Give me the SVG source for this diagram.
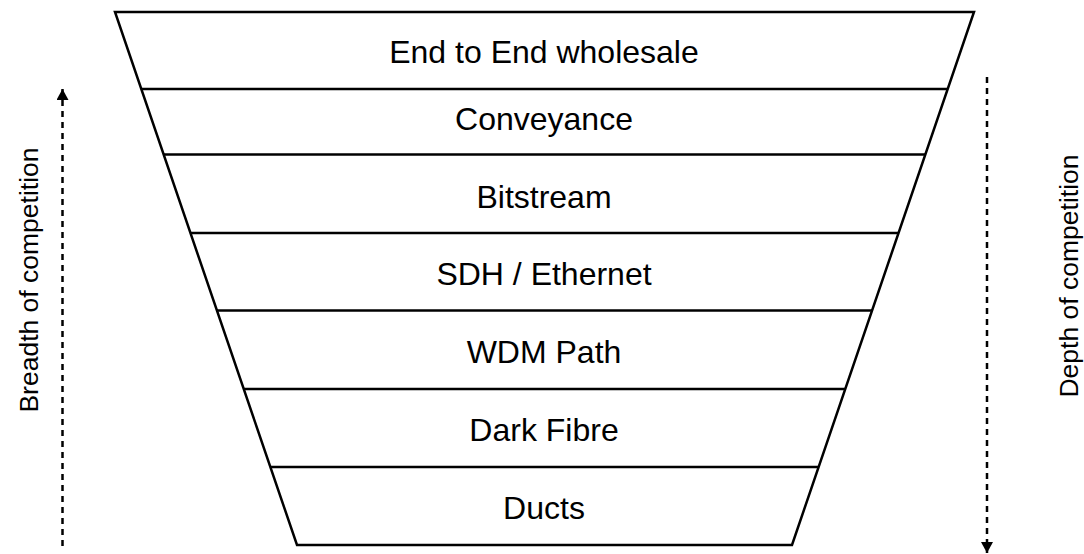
<svg xmlns="http://www.w3.org/2000/svg" width="1084" height="554" viewBox="0 0 1084 554">
  <style>
    .band { fill: none; stroke: #000; stroke-width: 2.5; stroke-linejoin: miter; }
    .sep { stroke: #000; stroke-width: 2.5; }
    .lbl { font-family: "Liberation Sans", Arial, sans-serif; font-size: 32px; fill: #000; text-anchor: middle; }
    .side { font-family: "Liberation Sans", Arial, sans-serif; font-size: 26.5px; fill: #000; text-anchor: middle; }
    .axis { stroke: #000; stroke-width: 2.5; stroke-dasharray: 6 5; fill: none; }
  </style>
  <defs>
    <marker id="tri" viewBox="0 0 10 10" refX="10" refY="5" markerWidth="11" markerHeight="12" markerUnits="userSpaceOnUse" orient="auto" preserveAspectRatio="none">
      <path d="M0,0 L10,5 L0,10 Z" fill="#000"/>
    </marker>
  </defs>
  <rect width="1084" height="554" fill="#fff"/>

  <!-- funnel outline -->
  <g id="funnel">
    <polygon class="band" points="115,12 974,12 792,545 297,545"/>
  </g>

  <!-- layers, top to bottom -->
  <g id="layer-end-to-end">
    <line class="sep" x1="141" y1="89" x2="948" y2="89"/>
    <text class="lbl" x="544" y="63">End to End wholesale</text>
  </g>
  <g id="layer-conveyance">
    <line class="sep" x1="163.5" y1="154.5" x2="925.5" y2="154.5"/>
    <text class="lbl" x="544" y="130">Conveyance</text>
  </g>
  <g id="layer-bitstream">
    <line class="sep" x1="190" y1="233" x2="899" y2="233"/>
    <text class="lbl" x="544" y="208">Bitstream</text>
  </g>
  <g id="layer-sdh">
    <line class="sep" x1="217" y1="310.5" x2="872" y2="310.5"/>
    <text class="lbl" x="544" y="285">SDH / Ethernet</text>
  </g>
  <g id="layer-wdm">
    <line class="sep" x1="244" y1="389" x2="845" y2="389"/>
    <text class="lbl" x="544" y="363">WDM Path</text>
  </g>
  <g id="layer-dark-fibre">
    <line class="sep" x1="270.5" y1="467" x2="818.5" y2="467"/>
    <text class="lbl" x="544" y="441">Dark Fibre</text>
  </g>
  <g id="layer-ducts">
    <text class="lbl" x="544" y="519">Ducts</text>
  </g>

  <!-- competition axes -->
  <g id="connectors">
    <line class="axis" x1="62.5" y1="546" x2="62.5" y2="89" marker-end="url(#tri)"/>
    <line class="axis" x1="987" y1="77" x2="987" y2="553" marker-end="url(#tri)"/>
  </g>
  <g id="label-breadth">
    <text class="side" transform="translate(38,280) rotate(-90)">Breadth of competition</text>
  </g>
  <g id="label-depth">
    <text class="side" transform="translate(1078,276) rotate(-90)">Depth of competition</text>
  </g>
</svg>
